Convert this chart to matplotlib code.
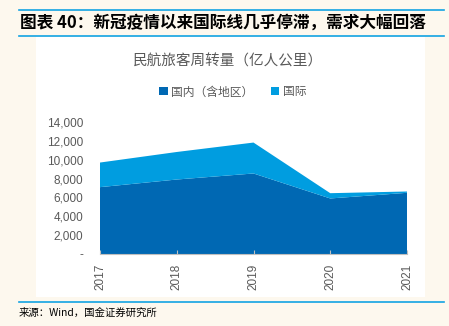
import matplotlib.pyplot as plt
from matplotlib.patches import Rectangle
from matplotlib.lines import Line2D

plt.rcParams['font.family'] = ['Noto Sans CJK SC', 'DejaVu Sans']

years = [2017, 2018, 2019, 2020, 2021]
domestic = [7090, 7900, 8540, 5890, 6490]
international = [2610, 2920, 3280, 560, 140]
series_names = ['国内（含地区）', '国际']
yticks = [0, 2000, 4000, 6000, 8000, 10000, 12000, 14000]
ytick_labels = ['-', '2,000', '4,000', '6,000', '8,000', '10,000', '12,000', '14,000']

c_dom = '#0068B3'
c_int = '#009DE0'
bg = '#FDF8EE'
line_blue = '#12A3E3'
grey = '#595959'

fig = plt.figure(figsize=(4.49, 3.26), dpi=100)
fig.patch.set_facecolor(bg)

# white panel behind the chart
fig.patches.append(Rectangle((36 / 449, 1 - 297 / 326), 389 / 449, 260 / 326,
                             transform=fig.transFigure, facecolor='white',
                             edgecolor='none', zorder=-5))

# blue rules above/below the heading and above the source
for yy in [10, 36, 302]:
    fig.add_artist(Line2D([19 / 449, 444 / 449], [1 - yy / 326] * 2,
                          transform=fig.transFigure, color=line_blue, lw=1.2))

fig.text(20 / 449, 1 - 23 / 326, '图表 40：新冠疫情以来国际线几乎停滞，需求大幅回落',
         fontsize=12, fontweight='bold', style='italic', va='center', ha='left', color='black')
fig.text(19 / 449, 1 - 313 / 326, '来源：Wind，国金证券研究所',
         fontsize=7.5, va='center', ha='left', color='black')
fig.text(228 / 449, 1 - 62 / 326, '民航旅客周转量（亿人公里）',
         fontsize=10.5, va='center', ha='center', color=grey)

ax = fig.add_axes([100 / 449, 1 - 254 / 326, 307 / 449, 132 / 326])
ax.set_zorder(2)
ax.set_facecolor('white')
ax.stackplot(years, domestic, international, colors=[c_dom, c_int],
             labels=series_names, linewidth=0)
ax.set_xlim(2017, 2021)
ax.set_ylim(0, 14000)
ax.set_yticks(yticks)
ax.set_yticklabels(ytick_labels, family='Liberation Sans')
ax.set_xticks(years)
ax.set_xticklabels([str(y) for y in years], rotation=90, family='Liberation Sans')
ax.tick_params(axis='y', length=0, labelsize=8.5, labelcolor=grey, pad=12)
ax.tick_params(axis='x', direction='in', length=3, color='#BFBFBF',
               labelsize=8.5, labelcolor=grey, pad=7)
for s in ['top', 'right', 'left']:
    ax.spines[s].set_visible(False)
ax.spines['bottom'].set_color('#BFBFBF')

leg = fig.legend(loc='center', bbox_to_anchor=(233 / 449, 1 - 92 / 326), ncol=2,
                 frameon=False, fontsize=8.5, handlelength=0.7, handleheight=0.7,
                 handletextpad=0.3, columnspacing=1.5)
for t in leg.get_texts():
    t.set_color(grey)

fig.savefig('out.png', dpi=100, facecolor=bg)
